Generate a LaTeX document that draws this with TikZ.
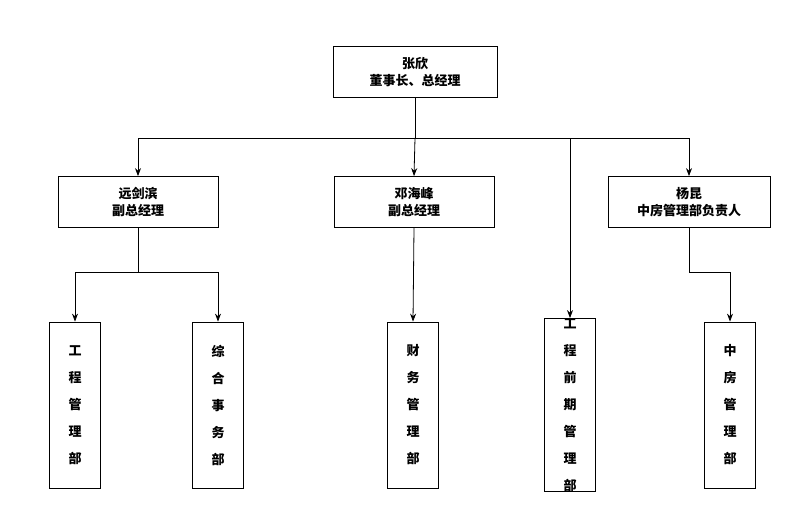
\documentclass[tikz,border=0pt]{standalone}
\usepackage{fontspec}
\newfontfamily\cjk{Noto Sans CJK SC}
\usetikzlibrary{positioning,arrows.meta}
\tikzstyle{box} = [draw=black,thick,text=black,minimum width=160pt,minimum height=51pt,inner sep=0,align=center,font=\cjk\bfseries\fontsize{13pt}{17pt}\selectfont]
\tikzstyle{dept} = [draw=black,thick,text=black,minimum width=51pt,minimum height=166pt,inner sep=0,align=center,font=\cjk\bfseries\fontsize{13pt}{27pt}\selectfont]
\tikzset{semithick, link/.style={thick,-{Stealth[length=8pt,width=6pt]}}}

\begin{document}
\begin{tikzpicture}[x=1pt,y=-1pt]
\useasboundingbox (0,0) rectangle (802,520);
\node[box, minimum width=164pt] (top) at (415,72) {张欣\\董事长、总经理};

\node[box] (m1) at (138,202) {远剑滨\\副总经理};
\node[box] (m2) at (414,202) {邓海峰\\副总经理};
\node[box, minimum width=162pt] (m3) at (689,202) {杨昆\\中房管理部负责人};

\node[dept] (d1) at (75,405) {工\\程\\管\\理\\部};
\node[dept] (d2) at (218,405) {综\\合\\事\\务\\部};
\node[dept] (d3) at (413,405) {财\\务\\管\\理\\部};
\node[dept] (d4) at (570,405) {工\\程\\前\\期\\管\\理\\部};
\node[dept] (d5) at (730,405) {中\\房\\管\\理\\部};

\coordinate (bus) at (415,138);
\draw[thick] (top.south) -- (bus);
\draw[link] (bus) -| (m1.north);
\draw[link] (bus) -- (m2.north);
\draw[link] (bus) -| (m3.north);
\draw[link] (570,138) -- (d4.north);

\draw[thick] (m1.south) -- (138,272);
\draw[link] (138,272) -| (d1.north);
\draw[link] (138,272) -| (d2.north);
\draw[link] (m2.south) -- (d3.north);
\draw[link] (m3.south) |- (730,272) -- (d5.north);
\end{tikzpicture}
\end{document}
